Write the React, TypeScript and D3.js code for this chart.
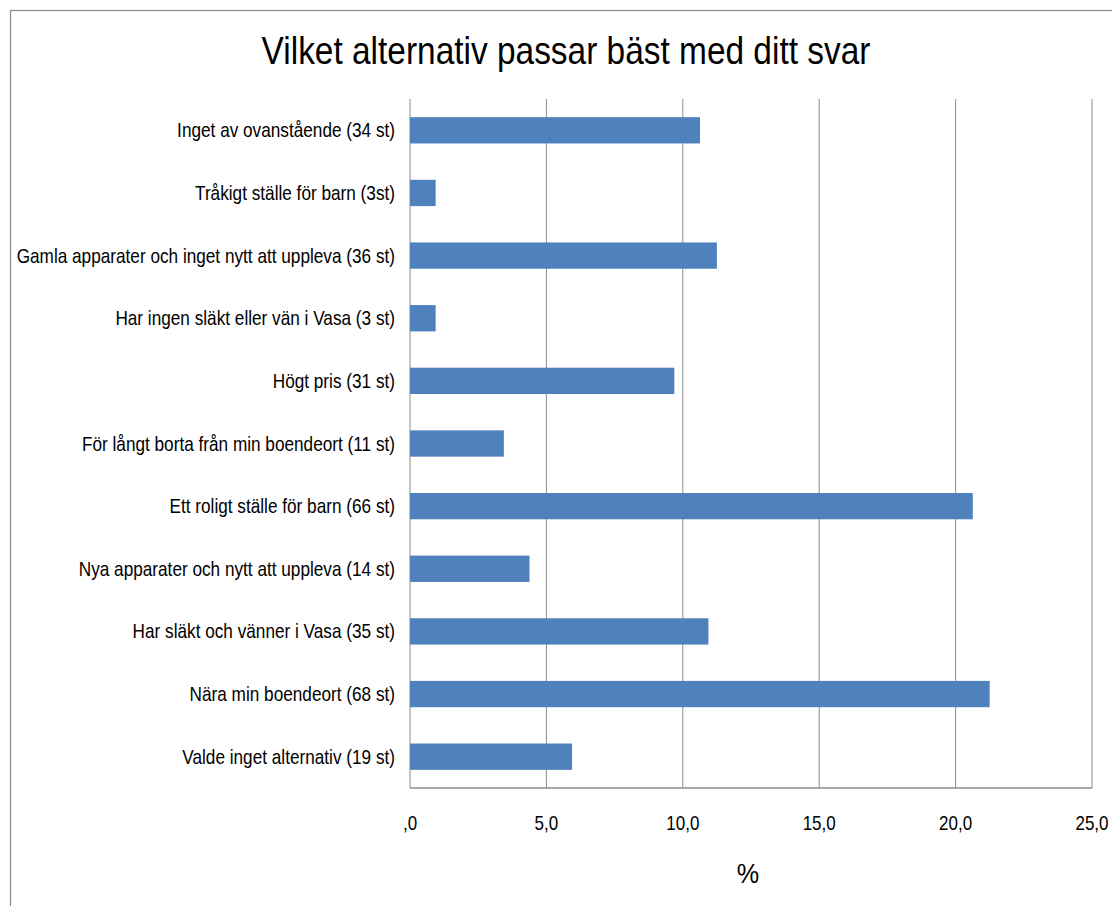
import React from "react";
import * as d3 from "d3";

const categories = [
  "Inget av ovanstående (34 st)",
  "Tråkigt ställe för barn (3st)",
  "Gamla apparater och inget nytt att uppleva (36 st)",
  "Har ingen släkt eller vän i Vasa (3 st)",
  "Högt pris (31 st)",
  "För långt borta från min boendeort (11 st)",
  "Ett roligt ställe för barn (66 st)",
  "Nya apparater och nytt att uppleva (14 st)",
  "Har släkt och vänner i Vasa (35 st)",
  "Nära min boendeort (68 st)",
  "Valde inget alternativ (19 st)",
];

// share of all 320 answers, in percent
const percents = [10.63, 0.94, 11.25, 0.94, 9.69, 3.44, 20.63, 4.38, 10.94, 21.25, 5.94];

const xTicks = [0, 5, 10, 15, 20, 25];

const W = 1112;
const H = 906;
const plot = { left: 410, right: 1092, top: 99, bottom: 788 };
const FONT = "'Liberation Sans Narrow', 'Liberation Sans', Arial, sans-serif";

const fmt = (v: number) => (v === 0 ? ",0" : d3.format(".1f")(v).replace(".", ","));

// text squeezed horizontally to a condensed look
function Narrow(props: {
  x: number;
  y: number;
  sx: number;
  size: number;
  anchor: "start" | "middle" | "end";
  children: React.ReactNode;
}) {
  return (
    <text
      transform={`translate(${props.x},${props.y}) scale(${props.sx},1)`}
      dy="0.35em"
      textAnchor={props.anchor}
      fontFamily={FONT}
      fontSize={props.size}
      fill="#000"
    >
      {props.children}
    </text>
  );
}

export default function App() {
  const x = d3.scaleLinear().domain([0, 25]).range([plot.left, plot.right]);
  const y = d3
    .scaleBand<string>()
    .domain(categories)
    .range([plot.top, plot.bottom])
    .paddingInner(0.58)
    .paddingOuter(0.29);

  return (
    <svg width={W} height={H} style={{ position: "absolute", left: 0, top: 0 }}>
      <rect x={0} y={0} width={W} height={H} fill="#fff" />
      <rect x={10.5} y={10.5} width={W + 20} height={H + 20} fill="none" stroke="#8c8c8c" strokeWidth={1.2} />

      <text
        transform={`translate(566,64) scale(0.88,1)`}
        textAnchor="middle"
        fontFamily={FONT}
        fontSize={38}
        fill="#000"
      >
        Vilket alternativ passar bäst med ditt svar
      </text>

      {xTicks.map((t) => (
        <line key={t} x1={x(t)} x2={x(t)} y1={plot.top} y2={plot.bottom} stroke="#8c8c8c" strokeWidth={1} />
      ))}
      <line x1={plot.left} x2={plot.right} y1={plot.bottom} y2={plot.bottom} stroke="#8c8c8c" strokeWidth={1.5} />

      {categories.map((c, i) => (
        <g key={c}>
          <rect
            x={x(0)}
            y={y(c)!}
            width={x(percents[i]) - x(0)}
            height={y.bandwidth()}
            fill="#4f81bd"
          />
          <Narrow x={plot.left - 15} y={y(c)! + y.bandwidth() / 2} sx={0.86} size={20} anchor="end">
            {c}
          </Narrow>
        </g>
      ))}

      {xTicks.map((t) => (
        <Narrow key={"l" + t} x={x(t)} y={823} sx={0.85} size={20} anchor="middle">
          {fmt(t)}
        </Narrow>
      ))}

      <Narrow x={748} y={873} sx={0.9} size={28} anchor="middle">
        %
      </Narrow>
    </svg>
  );
}
